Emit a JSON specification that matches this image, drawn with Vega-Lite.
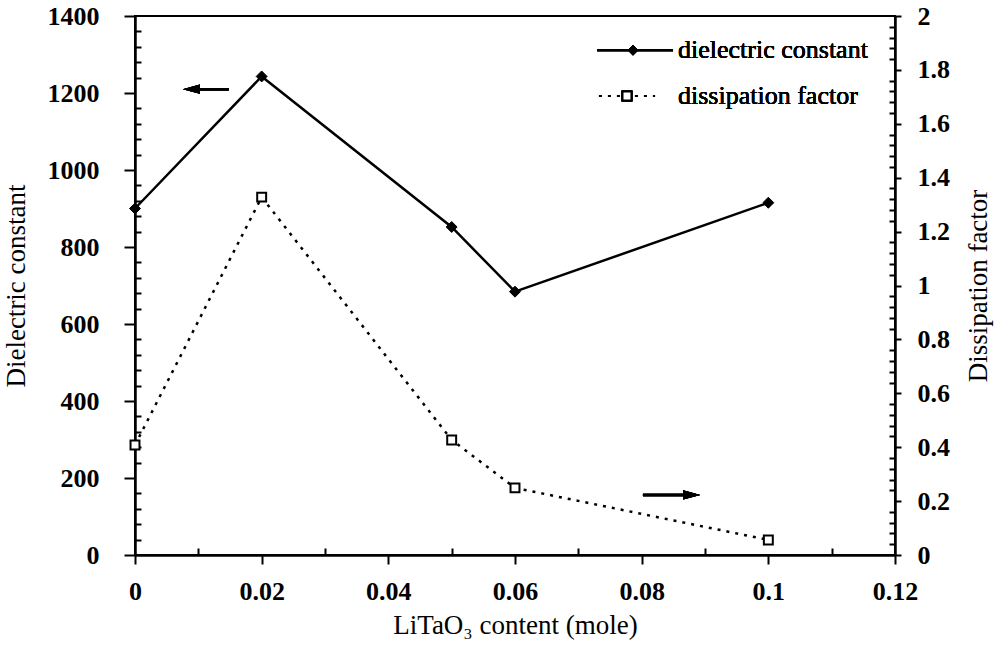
{
  "$schema": "https://vega.github.io/schema/vega-lite/v6.json",
  "autosize": {"type": "none"},
  "width": 760,
  "height": 539,
  "padding": {"left": 135, "top": 16, "right": 111, "bottom": 106},
  "background": "white",
  "config": {
    "view": {"stroke": "black", "strokeWidth": 2},
    "font": "Liberation Serif",
    "axis": {
      "domainColor": "black", "domainWidth": 2.5,
      "tickColor": "black", "tickWidth": 2,
      "labelFont": "Liberation Serif", "labelFontSize": 26, "labelFontWeight": "bold", "labelColor": "black",
      "titleFont": "Liberation Serif", "titleFontSize": 27, "titleFontWeight": "normal", "titleColor": "black",
      "grid": false, "labelOverlap": false, "labelFlush": false, "labelBound": false
    }
  },
  "datasets": {
    "dielectric": [
      {"x": 0, "series": "dielectric constant", "value": 900},
      {"x": 0.02, "series": "dielectric constant", "value": 1243},
      {"x": 0.05, "series": "dielectric constant", "value": 852},
      {"x": 0.06, "series": "dielectric constant", "value": 684},
      {"x": 0.1, "series": "dielectric constant", "value": 915}
    ],
    "dissipation": [
      {"x": 0, "series": "dissipation factor", "value": 0.408},
      {"x": 0.02, "series": "dissipation factor", "value": 1.328},
      {"x": 0.05, "series": "dissipation factor", "value": 0.427},
      {"x": 0.06, "series": "dissipation factor", "value": 0.249},
      {"x": 0.1, "series": "dissipation factor", "value": 0.056}
    ]
  },
  "encoding": {
    "x": {
      "field": "x", "type": "quantitative",
      "scale": {"domain": [0, 0.12], "nice": false, "zero": false},
      "axis": {
        "title": "LiTaO₃ content (mole)",
        "values": [0, 0.01, 0.02, 0.03, 0.04, 0.05, 0.06, 0.07, 0.08, 0.09, 0.1, 0.11, 0.12],
        "labelExpr": "round(datum.value*100) % 2 === 0 ? format(datum.value, '~g') : ''",
        "tickSize": {"condition": {"test": "round(datum.value*100) % 2 === 0", "value": 9}, "value": -7},
        "labelPadding": 14,
        "titlePadding": 8
      }
    }
  },
  "layer": [
    {
      "data": {"name": "dielectric"},
      "encoding": {
        "y": {
          "field": "value", "type": "quantitative",
          "scale": {"domain": [0, 1400], "nice": false, "zero": true},
          "axis": {
            "title": "Dielectric constant",
            "values": [0,40,80,120,160,200,240,280,320,360,400,440,480,520,560,600,640,680,720,760,800,840,880,920,960,1000,1040,1080,1120,1160,1200,1240,1280,1320,1360,1400],
            "format": "d",
            "labelExpr": "datum.value % 200 === 0 ? datum.label : ''",
            "tickSize": {"condition": {"test": "datum.value % 200 === 0", "value": 11}, "value": -6},
            "labelPadding": 25,
            "titlePadding": 17
          }
        }
      },
      "layer": [
        {"mark": {"type": "line", "color": "black", "strokeWidth": 2.5}},
        {"mark": {"type": "point", "filled": true, "fill": "black", "stroke": "black", "strokeWidth": 1, "size": 120, "shape": "diamond", "opacity": 1}},
        {
          "mark": {"type": "rule", "color": "black", "strokeWidth": 2.5},
          "encoding": {
            "x": {"datum": 0.0089, "type": "quantitative"},
            "x2": {"datum": 0.0148},
            "y": {"datum": 1210, "type": "quantitative"}
          }
        },
        {
          "mark": {"type": "point", "filled": true, "color": "black", "opacity": 1, "size": 289, "shape": "M-1,0L1,-0.55L1,0.55Z"},
          "encoding": {
            "x": {"datum": 0.0089, "type": "quantitative"},
            "y": {"datum": 1210, "type": "quantitative"}
          }
        },
        {
          "mark": {"type": "rule", "color": "black", "strokeWidth": 2.5},
          "encoding": {
            "x": {"datum": 0.0802, "type": "quantitative"},
            "x2": {"datum": 0.0875},
            "y": {"datum": 156, "type": "quantitative"}
          }
        },
        {
          "mark": {"type": "point", "filled": true, "color": "black", "opacity": 1, "size": 289, "shape": "M1,0L-1,-0.55L-1,0.55Z"},
          "encoding": {
            "x": {"datum": 0.0879, "type": "quantitative"},
            "y": {"datum": 156, "type": "quantitative"}
          }
        },
        {
          "mark": {"type": "rule", "color": "black", "strokeWidth": 2},
          "encoding": {
            "x": {"datum": 0.07295, "type": "quantitative"},
            "x2": {"datum": 0.08495},
            "y": {"datum": 1311, "type": "quantitative"}
          }
        },
        {
          "mark": {"type": "point", "filled": true, "color": "black", "opacity": 1, "size": 110, "shape": "diamond"},
          "encoding": {
            "x": {"datum": 0.07863, "type": "quantitative"},
            "y": {"datum": 1311, "type": "quantitative"}
          }
        },
        {
          "mark": {"type": "text", "text": "dielectric constant", "font": "Liberation Serif", "fontSize": 26, "align": "left", "baseline": "middle", "color": "black"},
          "encoding": {
            "x": {"datum": 0.08574, "type": "quantitative"},
            "y": {"datum": 1311, "type": "quantitative"}
          }
        },
        {
          "mark": {"type": "rule", "color": "black", "strokeWidth": 2, "strokeDash": [2.5, 6.5]},
          "encoding": {
            "x": {"datum": 0.07326, "type": "quantitative"},
            "x2": {"datum": 0.08211},
            "y": {"datum": 1192, "type": "quantitative"}
          }
        },
        {
          "mark": {"type": "point", "filled": true, "fill": "white", "stroke": "black", "strokeWidth": 2, "opacity": 1, "size": 80, "shape": "square"},
          "encoding": {
            "x": {"datum": 0.07768, "type": "quantitative"},
            "y": {"datum": 1192, "type": "quantitative"}
          }
        },
        {
          "mark": {"type": "text", "text": "dissipation factor", "font": "Liberation Serif", "fontSize": 26, "align": "left", "baseline": "middle", "color": "black"},
          "encoding": {
            "x": {"datum": 0.08574, "type": "quantitative"},
            "y": {"datum": 1192, "type": "quantitative"}
          }
        }
      ]
    },
    {
      "data": {"name": "dissipation"},
      "encoding": {
        "y": {
          "field": "value", "type": "quantitative",
          "scale": {"domain": [0, 2], "nice": false, "zero": true},
          "axis": {
            "orient": "right",
            "title": "Dissipation factor",
            "titleAngle": -90,
            "titleBaseline": "top",
            "values": [0,0.04,0.08,0.12,0.16,0.2,0.24,0.28,0.32,0.36,0.4,0.44,0.48,0.52,0.56,0.6,0.64,0.68,0.72,0.76,0.8,0.84,0.88,0.92,0.96,1,1.04,1.08,1.12,1.16,1.2,1.24,1.28,1.32,1.36,1.4,1.44,1.48,1.52,1.56,1.6,1.64,1.68,1.72,1.76,1.8,1.84,1.88,1.92,1.96,2],
            "labelExpr": "round(datum.value*100) % 20 === 0 ? format(datum.value, '~g') : ''",
            "tickSize": {"condition": {"test": "round(datum.value*100) % 20 === 0", "value": 6}, "value": -6},
            "labelPadding": 16,
            "titlePadding": 16
          }
        }
      },
      "layer": [
        {"mark": {"type": "line", "color": "black", "strokeWidth": 2.5, "strokeDash": [3, 6]}},
        {"mark": {"type": "point", "filled": true, "fill": "white", "stroke": "black", "strokeWidth": 2, "size": 80, "shape": "square", "opacity": 1}}
      ]
    }
  ],
  "resolve": {"scale": {"y": "independent"}}
}
